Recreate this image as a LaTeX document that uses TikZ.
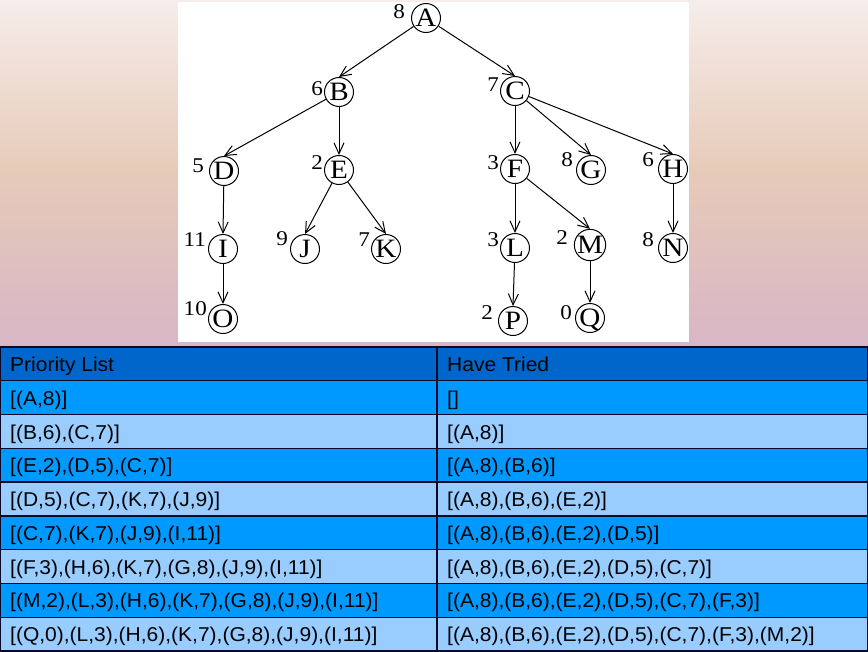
\documentclass[tikz,border=0pt]{standalone}
\usepackage{fontspec}
\usepackage{graphicx}
\setmainfont{Liberation Serif}
\newfontfamily\arialfont{Liberation Sans}
\usetikzlibrary{arrows.meta}
\definecolor{hdr}{HTML}{0066CC}
\definecolor{rowA}{HTML}{0099FF}
\definecolor{rowB}{HTML}{99CCFF}
\definecolor{bgtop}{HTML}{F6EDEA}
\definecolor{bgmid}{HTML}{E6CAB8}
\definecolor{bgbot}{HTML}{D8B6C6}
\definecolor{gridc}{HTML}{0A0A28}
\newcommand{\sxL}[1]{\scalebox{1.1}[1]{\fontsize{26.5}{26.5}\selectfont #1}}
\newcommand{\sxN}[1]{\scalebox{1.1}[1]{\fontsize{21}{21}\selectfont #1}}
\newcommand{\sxT}[1]{\scalebox{1.05}[1]{\arialfont\fontsize{20}{20}\selectfont #1}}
\begin{document}
\begin{tikzpicture}[x=1pt,y=-1pt,
  tnode/.style={circle, draw=black, line width=1pt, minimum size=29pt, inner sep=0pt, text height=17.5pt, text depth=0pt},
  lab/.style={anchor=east, inner sep=0pt},
  edge/.style={-{Straight Barb[length=11pt,width=10pt,line width=1pt]}, line width=1pt},
  cell/.style={anchor=base west, inner sep=0pt},
  gridline/.style={draw=gridc, line width=1.3pt}]
\useasboundingbox (0,0) rectangle (868,651);
\fill[bgbot] (0,340) rectangle (868,651);
\fill[top color=bgtop, bottom color=bgbot, middle color=bgmid] (0,0) rectangle (868,347);
\fill[white] (178,2) rectangle (689,342);
% tree nodes
\node[tnode] (A) at (426,18) {\sxL{A}};
\node[tnode] (B) at (339,92) {\sxL{B}};
\node[tnode] (C) at (515,91) {\sxL{C}};
\node[tnode] (D) at (224,171) {\sxL{D}};
\node[tnode] (E) at (339,170) {\sxL{E}};
\node[tnode] (F) at (515,169) {\sxL{F}};
\node[tnode] (G) at (591,170) {\sxL{G}};
\node[tnode] (H) at (673,169) {\sxL{H}};
\node[tnode] (I) at (223,249) {\sxL{I}};
\node[tnode] (J) at (305,249) {\sxL{J}};
\node[tnode] (K) at (386,249) {\sxL{K}};
\node[tnode] (L) at (515,248) {\sxL{L}};
\node[tnode] (M) at (590,245) {\sxL{M}};
\node[tnode] (N) at (673,248) {\sxL{N}};
\node[tnode] (O) at (223,319) {\sxL{O}};
\node[tnode] (P) at (513,321) {\sxL{P}};
\node[tnode] (Q) at (590,318) {\sxL{Q}};
% heuristic labels
\node[lab] (lA) at (405,12) {\sxN{8}};
\node[lab] (lB) at (323,89) {\sxN{6}};
\node[lab] (lC) at (499,84.5) {\sxN{7}};
\node[lab] (lD) at (204,166) {\sxN{5}};
\node[lab] (lE) at (323,163) {\sxN{2}};
\node[lab] (lF) at (499,163) {\sxN{3}};
\node[lab] (lG) at (573,159.5) {\sxN{8}};
\node[lab] (lH) at (654,159.5) {\sxN{6}};
\node[lab] (lI) at (206,240) {\sxN{11}};
\node[lab] (lJ) at (288,238.5) {\sxN{9}};
\node[lab] (lK) at (370,239.5) {\sxN{7}};
\node[lab] (lL) at (499,240) {\sxN{3}};
\node[lab] (lM) at (568,237.5) {\sxN{2}};
\node[lab] (lN) at (654,240) {\sxN{8}};
\node[lab] (lO) at (207,309) {\sxN{10}};
\node[lab] (lP) at (493,312.5) {\sxN{2}};
\node[lab] (lQ) at (572,312.5) {\sxN{0}};
% edges
\draw[edge] (A) -- (B.north);
\draw[edge] (A) -- (C.north);
\draw[edge] (B) -- (D.north);
\draw[edge] (B) -- (E.north);
\draw[edge] (C) -- (F.north);
\draw[edge] (C) -- (G.north);
\draw[edge] (C) -- (H.north);
\draw[edge] (D) -- (I.north);
\draw[edge] (E) -- (J.north);
\draw[edge] (E) -- (K.north);
\draw[edge] (F) -- (L.north);
\draw[edge] (F) -- (M.north);
\draw[edge] (H) -- (N.north);
\draw[edge] (I) -- (O.north);
\draw[edge] (L) -- (P.north);
\draw[edge] (M) -- (Q.north);
% table rows
\foreach \k/\c in {0/hdr,1/rowA,2/rowB,3/rowA,4/rowB,5/rowA,6/rowB,7/rowA,8/rowB}
  \fill[\c] (0,{347+33.78*\k}) rectangle (868,{347+33.78*(\k+1)});
\foreach \k in {0,...,9}
  \draw[gridline] (0,{347+33.78*\k}) -- (868,{347+33.78*\k});
\draw[gridline] (0.65,347) -- (0.65,651);
\draw[gridline] (437,347) -- (437,651);
\draw[gridline] (867.35,347) -- (867.35,651);
% table texts
\node[cell] (t0a) at (10,371.4) {\sxT{Priority List}};
\node[cell] (t0b) at (447,371.4) {\sxT{Have Tried}};
\node[cell] (t1a) at (10,405.2) {\sxT{[(A,8)]}};
\node[cell] (t1b) at (447,405.2) {\sxT{[]}};
\node[cell] (t2a) at (10,439.0) {\sxT{[(B,6),(C,7)]}};
\node[cell] (t2b) at (447,439.0) {\sxT{[(A,8)]}};
\node[cell] (t3a) at (10,472.7) {\sxT{[(E,2),(D,5),(C,7)]}};
\node[cell] (t3b) at (447,472.7) {\sxT{[(A,8),(B,6)]}};
\node[cell] (t4a) at (10,506.5) {\sxT{[(D,5),(C,7),(K,7),(J,9)]}};
\node[cell] (t4b) at (447,506.5) {\sxT{[(A,8),(B,6),(E,2)]}};
\node[cell] (t5a) at (10,540.3) {\sxT{[(C,7),(K,7),(J,9),(I,11)]}};
\node[cell] (t5b) at (447,540.3) {\sxT{[(A,8),(B,6),(E,2),(D,5)]}};
\node[cell] (t6a) at (10,574.1) {\sxT{[(F,3),(H,6),(K,7),(G,8),(J,9),(I,11)]}};
\node[cell] (t6b) at (447,574.1) {\sxT{[(A,8),(B,6),(E,2),(D,5),(C,7)]}};
\node[cell] (t7a) at (10,607.9) {\sxT{[(M,2),(L,3),(H,6),(K,7),(G,8),(J,9),(I,11)]}};
\node[cell] (t7b) at (447,607.9) {\sxT{[(A,8),(B,6),(E,2),(D,5),(C,7),(F,3)]}};
\node[cell] (t8a) at (10,641.7) {\sxT{[(Q,0),(L,3),(H,6),(K,7),(G,8),(J,9),(I,11)]}};
\node[cell] (t8b) at (447,641.7) {\sxT{[(A,8),(B,6),(E,2),(D,5),(C,7),(F,3),(M,2)]}};
\end{tikzpicture}
\end{document}
